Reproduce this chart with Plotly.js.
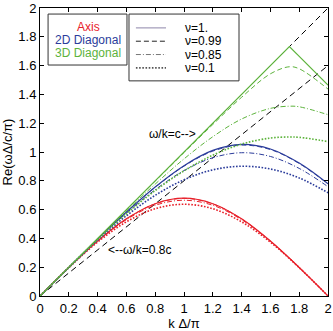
<!DOCTYPE html>
<html>
<head>
<meta charset="utf-8">
<script src="https://cdn.plot.ly/plotly-3.0.1.min.js"></script>
<style>
  html, body { margin: 0; padding: 0; background: #fff; }
  #chart { width: 333px; height: 331px; }
</style>
</head>
<body>
<div id="chart"></div>
<script>
// k*Delta/pi sample points
const kGrid = [0, 0.2, 0.4, 0.6, 0.8, 1, 1.2, 1.4, 1.6, 1.8, 2];
const kGrid3 = [0, 0.2, 0.4, 0.6, 0.8, 1, 1.2, 1.4, 1.6, 1.732, 1.8, 2];
const kCorner3 = [0, 1.732, 2];
const refK = [0, 2];

const familyNames = ['Axis', '2D Diagonal', '3D Diagonal'];
const nuLabels = ['ν=1.', 'ν=0.99', 'ν=0.85', 'ν=0.1'];

// propagation along an axis
const axisNu1 = [0, 0.198, 0.382, 0.536, 0.641, 0.679, 0.641, 0.536, 0.382, 0.198, 0];
const axisNu099 = [0, 0.198, 0.382, 0.535, 0.640, 0.678, 0.640, 0.535, 0.382, 0.198, 0];
const axisNu085 = [0, 0.198, 0.380, 0.530, 0.630, 0.665, 0.630, 0.530, 0.380, 0.198, 0];
const axisNu01 = [0, 0.197, 0.374, 0.515, 0.606, 0.637, 0.606, 0.515, 0.374, 0.197, 0];

// 2D diagonal
const diag2Nu1 = [0, 0.199, 0.395, 0.583, 0.757, 0.905, 1.011, 1.053, 1.021, 0.923, 0.780];
const diag2Nu099 = [0, 0.199, 0.395, 0.583, 0.755, 0.902, 1.006, 1.048, 1.017, 0.920, 0.778];
const diag2Nu085 = [0, 0.199, 0.393, 0.575, 0.738, 0.871, 0.960, 0.995, 0.969, 0.886, 0.759];
const diag2Nu01 = [0, 0.198, 0.387, 0.557, 0.699, 0.807, 0.876, 0.901, 0.882, 0.820, 0.717];

// 3D diagonal
const diag3Nu1 = [0, 1.732, 1.464];
const diag3Nu099 = [0, 0.200, 0.400, 0.599, 0.798, 0.996, 1.191, 1.380, 1.543, 1.592, 1.578, 1.437];
const diag3Nu085 = [0, 0.200, 0.397, 0.591, 0.777, 0.952, 1.106, 1.229, 1.303, 1.318, 1.314, 1.259];
const diag3Nu01 = [0, 0.199, 0.391, 0.571, 0.732, 0.869, 0.978, 1.055, 1.097, 1.104, 1.102, 1.072];

// omega/k = c and omega/k = 0.8c
const refLineC = [0, 2];
const refLine08c = [0, 1.6];

const RED = '#e8202a', BLUE = '#2b3c9b', GREEN = '#5db33c';
const FONT = 'Liberation Sans, Arial, Helvetica, sans-serif';

// line style per nu: solid, dashed, dash-dot, dotted
const nuStyles = [
  {dash: 'solid', width: 1.2},
  {dash: '5px,3px', width: 1},
  {dash: '5px,2px,1px,2px', width: 1},
  {dash: '1.6px,1.6px', width: 1.6}
];
const legendSampleColors = ['#a09ab8', '#222', '#777', '#555'];

const makeTrace = (x, y, color, style, shape) => ({
  x: x,
  y: y,
  type: 'scatter',
  mode: 'lines',
  hoverinfo: 'skip',
  line: {color: color, dash: style.dash, width: style.width, shape: shape || 'spline'}
});

const data = [];
data.push(makeTrace(refK, refLineC, '#000', {dash: '6px,4px', width: 1}, 'linear'));
data.push(makeTrace(refK, refLine08c, '#000', {dash: '6px,4px', width: 1}, 'linear'));

[axisNu1, axisNu099, axisNu085, axisNu01].forEach((y, i) => {
  data.push(makeTrace(kGrid, y, RED, nuStyles[i]));
});
[diag2Nu1, diag2Nu099, diag2Nu085, diag2Nu01].forEach((y, i) => {
  data.push(makeTrace(kGrid, y, BLUE, nuStyles[i]));
});
data.push(makeTrace(kCorner3, diag3Nu1, GREEN, nuStyles[0], 'linear'));
[diag3Nu099, diag3Nu085, diag3Nu01].forEach((y, i) => {
  data.push(makeTrace(kGrid3, y, GREEN, nuStyles[i + 1]));
});

// two boxed legends, drawn by hand in paper coordinates
const shapes = [
  {type: 'rect', xref: 'paper', yref: 'paper', x0: 0.028, x1: 0.302, y0: 0.802, y1: 0.979,
   line: {color: '#333', width: 1}, fillcolor: '#fff'},
  {type: 'rect', xref: 'paper', yref: 'paper', x0: 0.309, x1: 0.691, y0: 0.747, y1: 0.979,
   line: {color: '#333', width: 1}, fillcolor: '#fff'}
];
const annotations = [];
const familyColors = [RED, BLUE, GREEN];
familyNames.forEach((name, i) => {
  annotations.push({
    xref: 'paper', yref: 'paper', x: 0.167, y: 0.934 - i * 0.045,
    text: name, showarrow: false, xanchor: 'center', yanchor: 'middle',
    font: {family: FONT, size: 12, color: familyColors[i]}, borderpad: 0
  });
});
nuLabels.forEach((label, i) => {
  const yy = 0.931 - i * 0.0463;
  shapes.push({
    type: 'line', xref: 'paper', yref: 'paper', x0: 0.333, x1: 0.4375, y0: yy, y1: yy,
    line: {color: legendSampleColors[i], dash: nuStyles[i].dash, width: nuStyles[i].width}
  });
  annotations.push({
    xref: 'paper', yref: 'paper', x: 0.5, y: yy,
    text: label, showarrow: false, xanchor: 'left', yanchor: 'middle',
    font: {family: FONT, size: 12, color: '#000'}, borderpad: 0
  });
});
annotations.push({
  x: 0.917, y: 1.125, text: 'ω/k=c-->', showarrow: false,
  font: {family: FONT, size: 12, color: '#000'}
});
annotations.push({
  x: 0.688, y: 0.319, text: '<--ω/k=0.8c', showarrow: false,
  font: {family: FONT, size: 12, color: '#000'}
});

const axisCommon = {
  range: [0, 2],
  tick0: 0,
  dtick: 0.2,
  ticks: 'inside',
  ticklen: 4,
  tickcolor: '#000',
  showline: true,
  linecolor: '#000',
  linewidth: 1,
  mirror: 'ticks',
  showgrid: false,
  zeroline: false,
  fixedrange: true,
  tickfont: {family: FONT, size: 13, color: '#000'}
};

const layout = {
  width: 333,
  height: 331,
  margin: {l: 40, r: 5, t: 8, b: 35},
  paper_bgcolor: '#fff',
  plot_bgcolor: '#fff',
  showlegend: false,
  xaxis: Object.assign({}, axisCommon, {
    title: {text: 'k Δ/π', font: {family: FONT, size: 13, color: '#000'}, standoff: 5}
  }),
  yaxis: Object.assign({}, axisCommon, {
    title: {text: 'Re(ωΔ/c/π)', font: {family: FONT, size: 13, color: '#000'}, standoff: 6}
  }),
  shapes: shapes,
  annotations: annotations
};

Plotly.newPlot('chart', data, layout, {displayModeBar: false, staticPlot: true});
</script>
</body>
</html>
